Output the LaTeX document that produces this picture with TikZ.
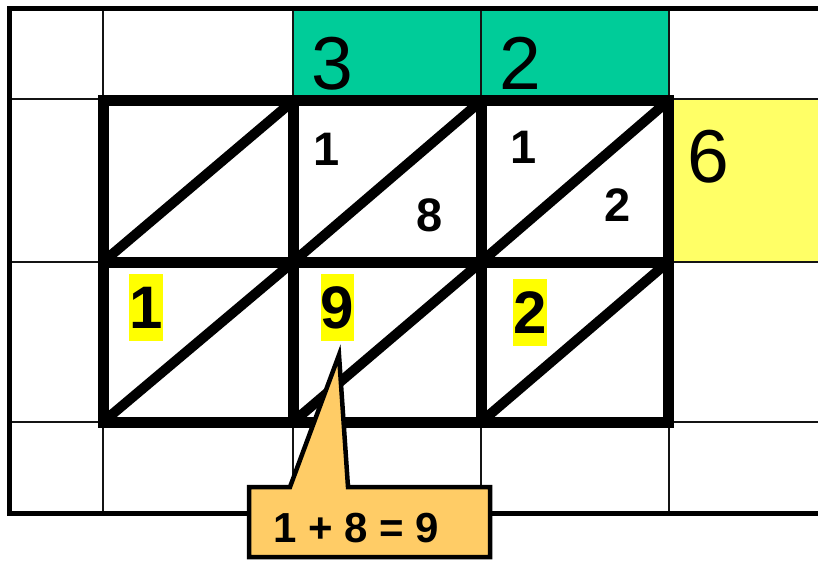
\documentclass[tikz,border=0pt]{standalone}
\usepackage{fontspec}
\setmainfont{Liberation Sans}
\definecolor{tealgreen}{RGB}{0,204,153}
\definecolor{paleyellow}{RGB}{255,255,102}
\definecolor{hiyellow}{RGB}{255,255,0}
\definecolor{calloutorange}{RGB}{255,204,102}
\begin{document}
\begin{tikzpicture}[x=1pt,y=-1pt,
  thingrid/.style={line width=2pt, draw=black!92},
  thickline/.style={line width=11pt, draw=black, line cap=rect},
  diagline/.style={line width=10pt, draw=black},
  bigdigit/.style={font=\fontsize{75}{80}\selectfont, inner sep=0pt, anchor=base},
  smalldigit/.style={font=\bfseries\fontsize{47}{50}\selectfont, inner sep=0pt, anchor=base},
  hidigit/.style={font=\bfseries\fontsize{60}{64}\selectfont, inner sep=0pt, anchor=base,
     fill=hiyellow, text height=54.3pt, text depth=12.7pt},
  calloutbox/.style={line width=4.5pt, draw=black, fill=calloutorange, line join=miter},
  callouttext/.style={font=\bfseries\fontsize{42}{46}\selectfont, inner sep=0pt, anchor=base}]
\useasboundingbox (0,0) rectangle (818,561);
\begin{scope}
\clip (0,0) rectangle (818,561);
% coloured cells
\fill[tealgreen] (293,8) rectangle (669,99);
\fill[paleyellow] (669,99) rectangle (830,262);
% thin grid
\foreach \xx in {103,293,481,669}
  \draw[thingrid] (\xx,8) -- (\xx,513);
\foreach \yy in {99,262,422}
  \draw[thingrid] (9,\yy) -- (830,\yy);
% outer border
\draw[line width=5pt, draw=black] (9.5,8.5) rectangle (840,513);
\end{scope}
% lattice diagonals
\foreach \xa/\xb in {103/293,293/481,481/668}{
  \draw[diagline] (\xa,262) -- (\xb,101);
  \draw[diagline] (\xa,422) -- (\xb,262);
}
% thick lattice
\draw[thickline] (103,101) rectangle (668,422);
\draw[thickline] (293,101) -- (293,422);
\draw[thickline] (481,101) -- (481,422);
\draw[thickline] (103,262) -- (668,262);
% numbers
\node[bigdigit] (m3) at (332,90) {3};
\node[bigdigit] (m2) at (520,90) {2};
\node[bigdigit] (m6) at (708,183) {6};
\node[smalldigit] (a1) at (327,166) {1};
\node[smalldigit] (a8) at (430,232) {8};
\node[smalldigit] (b1) at (524,164) {1};
\node[smalldigit] (b2) at (618,222) {2};
\node[hidigit] (r1) at (146,328) {1};
\node[hidigit] (r9) at (337.5,328) {9};
\node[hidigit] (r2) at (530,333) {2};
% callout
\coordinate (tip) at (339,355);
\draw[calloutbox] (249,487) -- (290,487) -- (tip) -- (348,487) -- (490,487)
   -- (490,557) -- (249,557) -- cycle;
\node[callouttext] (sum) at (356,542) {1 + 8 = 9};
\end{tikzpicture}
\end{document}
